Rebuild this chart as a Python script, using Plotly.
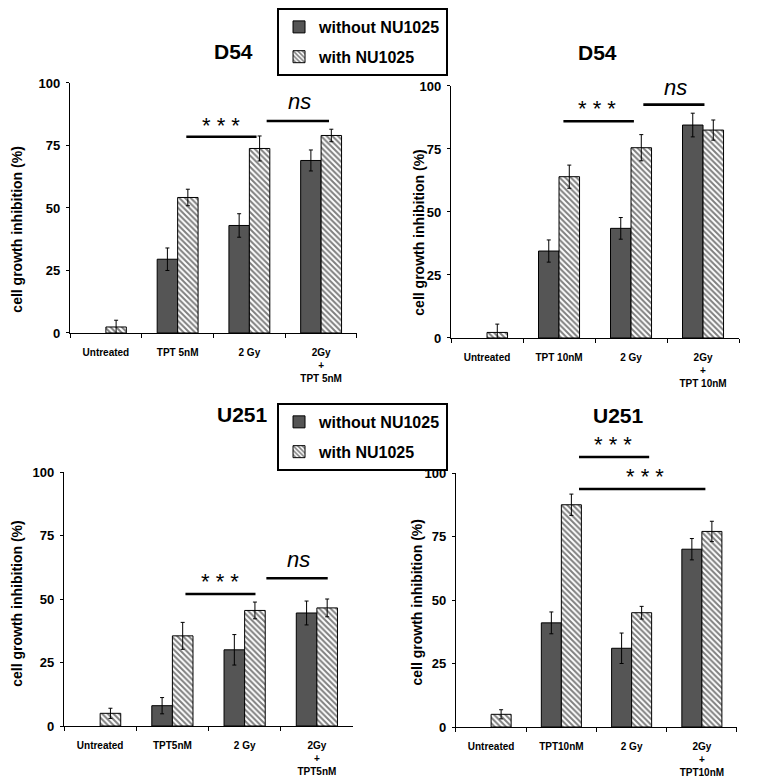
import plotly.graph_objects as go

# categories per panel
cats_d54_5 = ["Untreated", "TPT 5nM", "2 Gy", "2Gy<br>+<br>TPT 5nM"]
cats_d54_10 = ["Untreated", "TPT 10nM", "2 Gy", "2Gy<br>+<br>TPT 10nM"]
cats_u251_5 = ["Untreated", "TPT5nM", "2 Gy", "2Gy<br>+<br>TPT5nM"]
cats_u251_10 = ["Untreated", "TPT10nM", "2 Gy", "2Gy<br>+<br>TPT10nM"]

# D54, TPT 5nM
d54_5_without = [None, 29.5, 43.0, 69.0]
d54_5_without_err = [0, 4.5, 4.7, 4.2]
d54_5_with = [2.4, 54.2, 73.8, 79.0]
d54_5_with_err = [2.7, 3.3, 5.0, 2.5]

# D54, TPT 10nM
d54_10_without = [None, 34.5, 43.5, 84.5]
d54_10_without_err = [0, 4.4, 4.3, 4.7]
d54_10_with = [2.2, 64.0, 75.5, 82.5]
d54_10_with_err = [3.3, 4.6, 5.2, 4.0]

# U251, TPT5nM
u251_5_without = [None, 8.0, 30.0, 44.5]
u251_5_without_err = [0, 3.2, 6.0, 4.7]
u251_5_with = [5.0, 35.5, 45.5, 46.5]
u251_5_with_err = [2.0, 5.3, 3.3, 3.5]

# U251, TPT10nM
u251_10_without = [None, 41.0, 31.0, 70.0]
u251_10_without_err = [0, 4.3, 6.0, 4.2]
u251_10_with = [5.0, 87.5, 45.0, 77.0]
u251_10_with_err = [1.8, 4.2, 2.5, 4.0]

y_ticks = [0, 25, 50, 75, 100]
Y_RANGE = [0, 100]
Y_TITLE = "cell growth inhibition (%)"

FONT = "Liberation Sans"
DARK = "#555555"

# page body has an 8px margin, so the figure is 8px smaller than the window
W, H = 750, 769

panels = [
    dict(n=1, title="D54", cats=cats_d54_5,
         wo=d54_5_without, wo_e=d54_5_without_err, w=d54_5_with, w_e=d54_5_with_err,
         xdom=[0.0827, 0.4653], ydom=[0.5774, 0.9025], legend="legend",
         title_x=0.568, title_y=0.9428, ytx=-0.186, yty=0.412),
    dict(n=2, title="D54", cats=cats_d54_10,
         wo=d54_10_without, wo_e=d54_10_without_err, w=d54_10_with, w_e=d54_10_with_err,
         xdom=[0.5907, 0.9747], ydom=[0.5709, 0.8986], legend=None,
         title_x=0.507, title_y=0.9415, ytx=-0.112, yty=0.417),
    dict(n=3, title="U251", cats=cats_u251_5,
         wo=u251_5_without, wo_e=u251_5_without_err, w=u251_5_with, w_e=u251_5_with_err,
         xdom=[0.0747, 0.46], ydom=[0.0663, 0.3966], legend="legend2",
         title_x=0.616, title_y=0.472, ytx=-0.164, yty=0.48),
    dict(n=4, title="U251", cats=cats_u251_10,
         wo=u251_10_without, wo_e=u251_10_without_err, w=u251_10_with, w_e=u251_10_with_err,
         xdom=[0.5973, 0.972], ydom=[0.065, 0.3953], legend=None,
         title_x=0.58, title_y=0.4707, ytx=-0.137, yty=0.492),
]

# significance brackets: (x_start, x_end, y_line, label, x_label, y_label)
brackets = {
    1: [(1.1, 2.1, 78.5, "* * *", 1.6, 83.0), (2.22, 3.11, 84.8, "<i>ns</i>", 2.7, 92.4)],
    2: [(1.04, 2.04, 86.0, "* * *", 1.53, 91.0), (2.15, 3.02, 92.6, "<i>ns</i>", 2.62, 99.3)],
    3: [(1.16, 2.15, 52.0, "* * *", 1.66, 57.0), (2.28, 3.15, 58.2, "<i>ns</i>", 2.75, 65.7)],
    4: [(1.23, 2.25, 106.3, "* * *", 1.73, 111.2), (1.23, 3.05, 93.7, "* * *", 2.19, 98.7)],
}


def to_domain(v):
    # value on the y scale -> fraction of the y axis domain (may exceed 1)
    return (v - Y_RANGE[0]) / (Y_RANGE[1] - Y_RANGE[0])


fig = go.Figure()
annotations = []

for p in panels:
    n = p["n"]
    xa = "x" if n == 1 else f"x{n}"
    ya = "y" if n == 1 else f"y{n}"
    show = p["legend"] is not None
    fig.add_trace(go.Bar(
        x=p["cats"], y=p["wo"], name="without NU1025",
        marker=dict(color=DARK, line=dict(color="black", width=1)),
        error_y=dict(type="data", array=p["wo_e"], color="black", thickness=1, width=2),
        xaxis=xa, yaxis=ya, showlegend=show, legend=p["legend"] or "legend",
        legendgroup=f"wo{n}",
    ))
    fig.add_trace(go.Bar(
        x=p["cats"], y=p["w"], name="with NU1025",
        marker=dict(color="white", line=dict(color="black", width=1),
                    pattern=dict(shape="\\", fgcolor="black", bgcolor="white",
                                 size=4, solidity=0.5)),
        error_y=dict(type="data", array=p["w_e"], color="black", thickness=1, width=2),
        xaxis=xa, yaxis=ya, showlegend=show, legend=p["legend"] or "legend",
        legendgroup=f"w{n}",
    ))

    sfx = "" if n == 1 else str(n)
    fig.update_layout(**{
        f"xaxis{sfx}": dict(
            domain=p["xdom"], anchor=ya, type="category", range=[-0.5, 3.5],
            automargin=False,
            showline=True, linecolor="black", linewidth=1.2,
            ticks="outside", ticklen=4, tickcolor="black", tickson="boundaries",
            tickfont=dict(family=FONT, size=10, color="black", weight="bold"),
            ticklabelstandoff=10, showgrid=False, zeroline=False,
        ),
        f"yaxis{sfx}": dict(
            domain=p["ydom"], anchor=xa, range=Y_RANGE, automargin=False,
            tickvals=y_ticks, showline=True, linecolor="black", linewidth=1.2,
            ticks="outside", ticklen=3, tickcolor="black",
            tickfont=dict(family=FONT, size=13, color="black", weight="bold"),
            ticklabelstandoff=3, showgrid=False, zeroline=False,
        ),
    })

    annotations.append(dict(
        text=p["title"], xref=f"{xa} domain", yref="paper",
        x=p["title_x"], y=p["title_y"], xanchor="center", yanchor="middle",
        showarrow=False,
        font=dict(family=FONT, size=21, color="black", weight="bold"),
    ))
    annotations.append(dict(
        text=Y_TITLE, xref=f"{xa} domain", yref=f"{ya} domain",
        x=p["ytx"], y=p["yty"], xanchor="center", yanchor="middle",
        textangle=-90, showarrow=False,
        font=dict(family=FONT, size=14, color="black", weight="bold"),
    ))

    for x0, x1, yl, lab, xl, ylab in brackets[n]:
        annotations.append(dict(
            xref=xa, yref=f"{ya} domain", axref=xa, ayref=f"{ya} domain",
            x=x1, y=to_domain(yl), ax=x0, ay=to_domain(yl), text="", showarrow=True,
            arrowhead=0, arrowwidth=2.6, arrowcolor="black",
            standoff=0, startstandoff=0,
        ))
        is_ns = "ns" in lab
        annotations.append(dict(
            xref=xa, yref=f"{ya} domain", x=xl, y=to_domain(ylab), text=lab,
            xanchor="center", yanchor="middle", showarrow=False,
            font=dict(family=FONT, size=22, color="black"),
        ))

legend_style = dict(
    bordercolor="black", borderwidth=2, bgcolor="white",
    font=dict(family=FONT, size=16, color="black", weight="bold"),
    xanchor="left", yanchor="top", tracegroupgap=6,
)

fig.update_layout(
    width=W, height=H,
    margin=dict(l=0, r=0, t=0, b=0, autoexpand=False),
    paper_bgcolor="white", plot_bgcolor="white",
    barmode="group", bargap=0.43, bargroupgap=0,
    legend=dict(x=0.3587, y=1.0, **legend_style),
    legend2=dict(x=0.3587, y=0.4864, **legend_style),
    annotations=annotations,
)

fig.write_html("out.html")
